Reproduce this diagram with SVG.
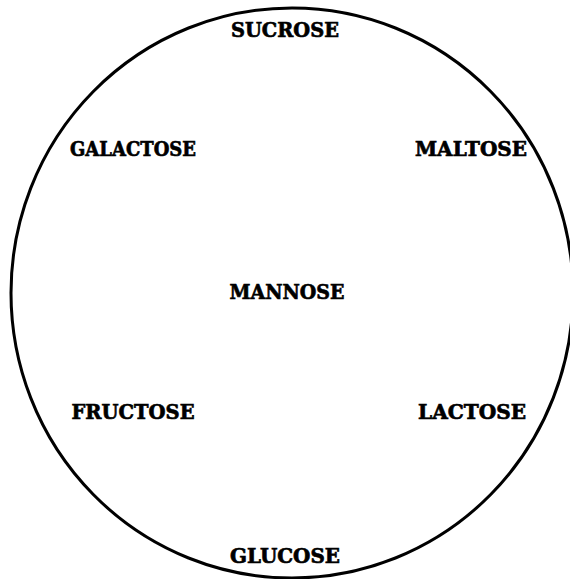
<svg xmlns="http://www.w3.org/2000/svg" width="570" height="579" viewBox="0 0 570 579">
<style>
.lbl{font-family:"DejaVu Serif","Liberation Serif",serif;font-weight:bold;font-size:21px;fill:#000;stroke:#000;stroke-width:0.7;text-anchor:middle}
</style>
<rect width="570" height="579" fill="#fff"/>
<g id="connectors">
<ellipse id="ring" cx="292" cy="293" rx="281" ry="285" fill="none" stroke="#000" stroke-width="3"/>
</g>
<g id="sucrose"><text class="lbl" x="285" y="37" textLength="108" lengthAdjust="spacingAndGlyphs">SUCROSE</text></g>
<g id="galactose"><text class="lbl" x="133" y="156" textLength="126" lengthAdjust="spacingAndGlyphs">GALACTOSE</text></g>
<g id="maltose"><text class="lbl" x="471" y="156" textLength="112" lengthAdjust="spacingAndGlyphs">MALTOSE</text></g>
<g id="mannose"><text class="lbl" x="287" y="299" textLength="115" lengthAdjust="spacingAndGlyphs">MANNOSE</text></g>
<g id="fructose"><text class="lbl" x="133" y="419" textLength="123" lengthAdjust="spacingAndGlyphs">FRUCTOSE</text></g>
<g id="lactose"><text class="lbl" x="472" y="419" textLength="108" lengthAdjust="spacingAndGlyphs">LACTOSE</text></g>
<g id="glucose"><text class="lbl" x="285" y="563" textLength="110" lengthAdjust="spacingAndGlyphs">GLUCOSE</text></g>
</svg>
